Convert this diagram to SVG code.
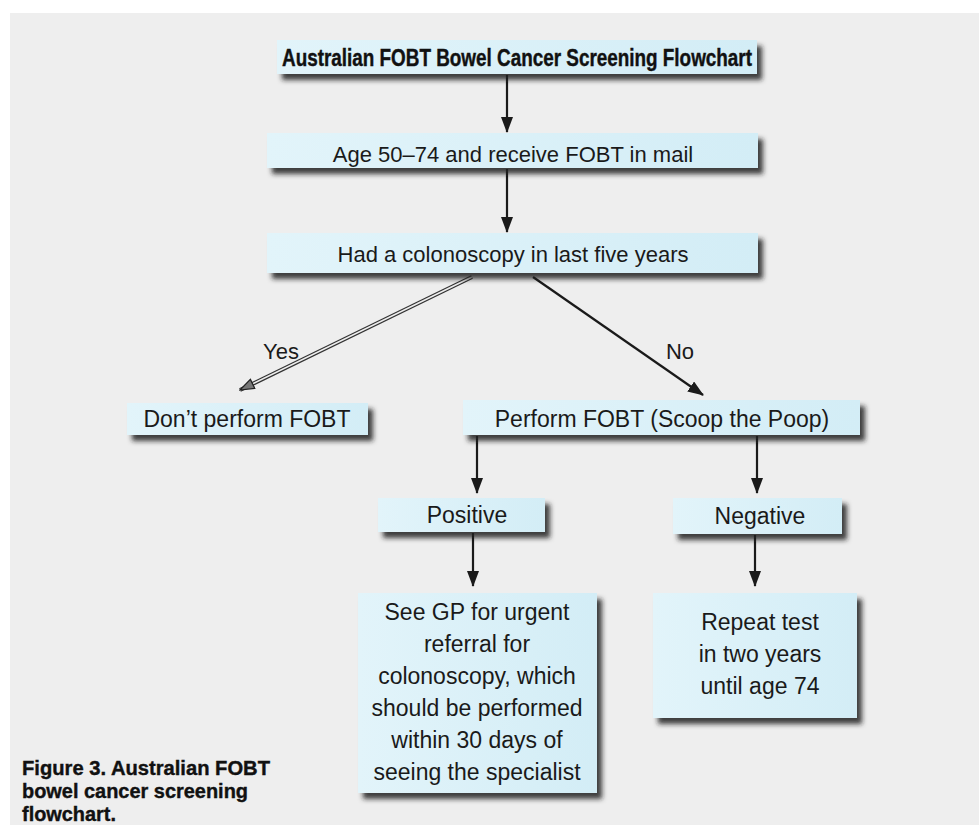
<svg xmlns="http://www.w3.org/2000/svg" width="979" height="825" viewBox="0 0 979 825">
<defs>
<filter id="sh" x="-10%" y="-30%" width="130%" height="180%">
<feDropShadow dx="5" dy="6" stdDeviation="2.5" flood-color="#1a1a1a" flood-opacity="0.85"/>
</filter>
<linearGradient id="bf" x1="0" y1="0" x2="1" y2="0">
<stop offset="0" stop-color="#e2f4fa"/>
<stop offset="1" stop-color="#d3edf6"/>
</linearGradient>
<marker id="ah" viewBox="0 0 16 12" refX="15" refY="6" markerWidth="16" markerHeight="12" markerUnits="userSpaceOnUse" orient="auto">
<path d="M0,0 L16,6 L0,12 Z" fill="#1a1a1a"/>
</marker>
<marker id="ahy" viewBox="0 0 16 12" refX="15" refY="6" markerWidth="16" markerHeight="12" markerUnits="userSpaceOnUse" orient="auto">
<path d="M1,1 L15,6 L1,11 Z" fill="#777" stroke="#222" stroke-width="1.2"/>
</marker>
</defs>
<style>
.box{fill:url(#bf);filter:url(#sh)}
.t{font-family:"Liberation Sans",Arial,sans-serif;font-size:23px;fill:#1a1a1a;text-anchor:middle}
.s{font-size:22px}
.b{font-family:"Liberation Sans",Arial,sans-serif;font-weight:bold;fill:#111;stroke:#111;stroke-width:0.4}
.c{stroke:#1a1a1a;stroke-width:2.2;fill:none}
</style>
<rect x="0" y="0" width="979" height="825" fill="#ffffff"/>
<rect x="10" y="13" width="969" height="812" fill="#eeeeee"/>

<g id="connectors">
<line class="c" x1="507" y1="75" x2="507" y2="132" marker-end="url(#ah)"/>
<line class="c" x1="507" y1="169" x2="507" y2="232" marker-end="url(#ah)"/>
<line x1="472" y1="277" x2="240" y2="390" stroke="#333" stroke-width="4"/>
<line x1="472" y1="277" x2="240" y2="390" stroke="#eeeeee" stroke-width="1.6" marker-end="url(#ahy)"/>
<line class="c" x1="533" y1="277" x2="703" y2="395" stroke-width="3" marker-end="url(#ah)"/>
<line class="c" x1="477" y1="436" x2="477" y2="493" marker-end="url(#ah)"/>
<line class="c" x1="757" y1="436" x2="757" y2="493" marker-end="url(#ah)"/>
<line class="c" x1="473" y1="533" x2="473" y2="586" marker-end="url(#ah)"/>
<line class="c" x1="755" y1="535" x2="755" y2="586" marker-end="url(#ah)"/>
<text class="t s" x="281" y="359">Yes</text>
<text class="t s" x="680" y="359">No</text>
</g>

<g id="title">
<rect class="box" x="277" y="40" width="480" height="34"/>
<text class="b" x="517" y="66" font-size="23" text-anchor="middle" textLength="470" lengthAdjust="spacingAndGlyphs">Australian FOBT Bowel Cancer Screening Flowchart</text>
</g>
<g id="age">
<rect class="box" x="267" y="133" width="491" height="35"/>
<text class="t s" x="513" y="162">Age 50–74 and receive FOBT in mail</text>
</g>
<g id="colonoscopy">
<rect class="box" x="267" y="233" width="491" height="40"/>
<text class="t s" x="513" y="262">Had a colonoscopy in last five years</text>
</g>
<g id="dont">
<rect class="box" x="127" y="403" width="241" height="32"/>
<text class="t" x="247" y="427">Don’t perform FOBT</text>
</g>
<g id="perform">
<rect class="box" x="463" y="400" width="397" height="35"/>
<text class="t" x="662" y="427">Perform FOBT (Scoop the Poop)</text>
</g>
<g id="positive">
<rect class="box" x="378" y="498" width="167" height="34"/>
<text class="t" x="467" y="523">Positive</text>
</g>
<g id="negative">
<rect class="box" x="673" y="498" width="169" height="36"/>
<text class="t" x="760" y="524">Negative</text>
</g>
<g id="seegp">
<rect class="box" x="358" y="593" width="239" height="200"/>
<text class="t" x="477" y="620">See GP for urgent</text>
<text class="t" x="477" y="652">referral for</text>
<text class="t" x="477" y="684">colonoscopy, which</text>
<text class="t" x="477" y="716">should be performed</text>
<text class="t" x="477" y="748">within 30 days of</text>
<text class="t" x="477" y="780">seeing the specialist</text>
</g>
<g id="repeat">
<rect class="box" x="653" y="593" width="204" height="125"/>
<text class="t" x="760" y="630">Repeat test</text>
<text class="t" x="760" y="662">in two years</text>
<text class="t" x="760" y="694">until age 74</text>
</g>
<g id="caption">
<text class="b" x="22" y="775" font-size="21" textLength="248" lengthAdjust="spacingAndGlyphs">Figure 3. Australian FOBT</text>
<text class="b" x="22" y="798" font-size="21" textLength="226" lengthAdjust="spacingAndGlyphs">bowel cancer screening</text>
<text class="b" x="22" y="821" font-size="21" textLength="94" lengthAdjust="spacingAndGlyphs">flowchart.</text>
</g>
</svg>
